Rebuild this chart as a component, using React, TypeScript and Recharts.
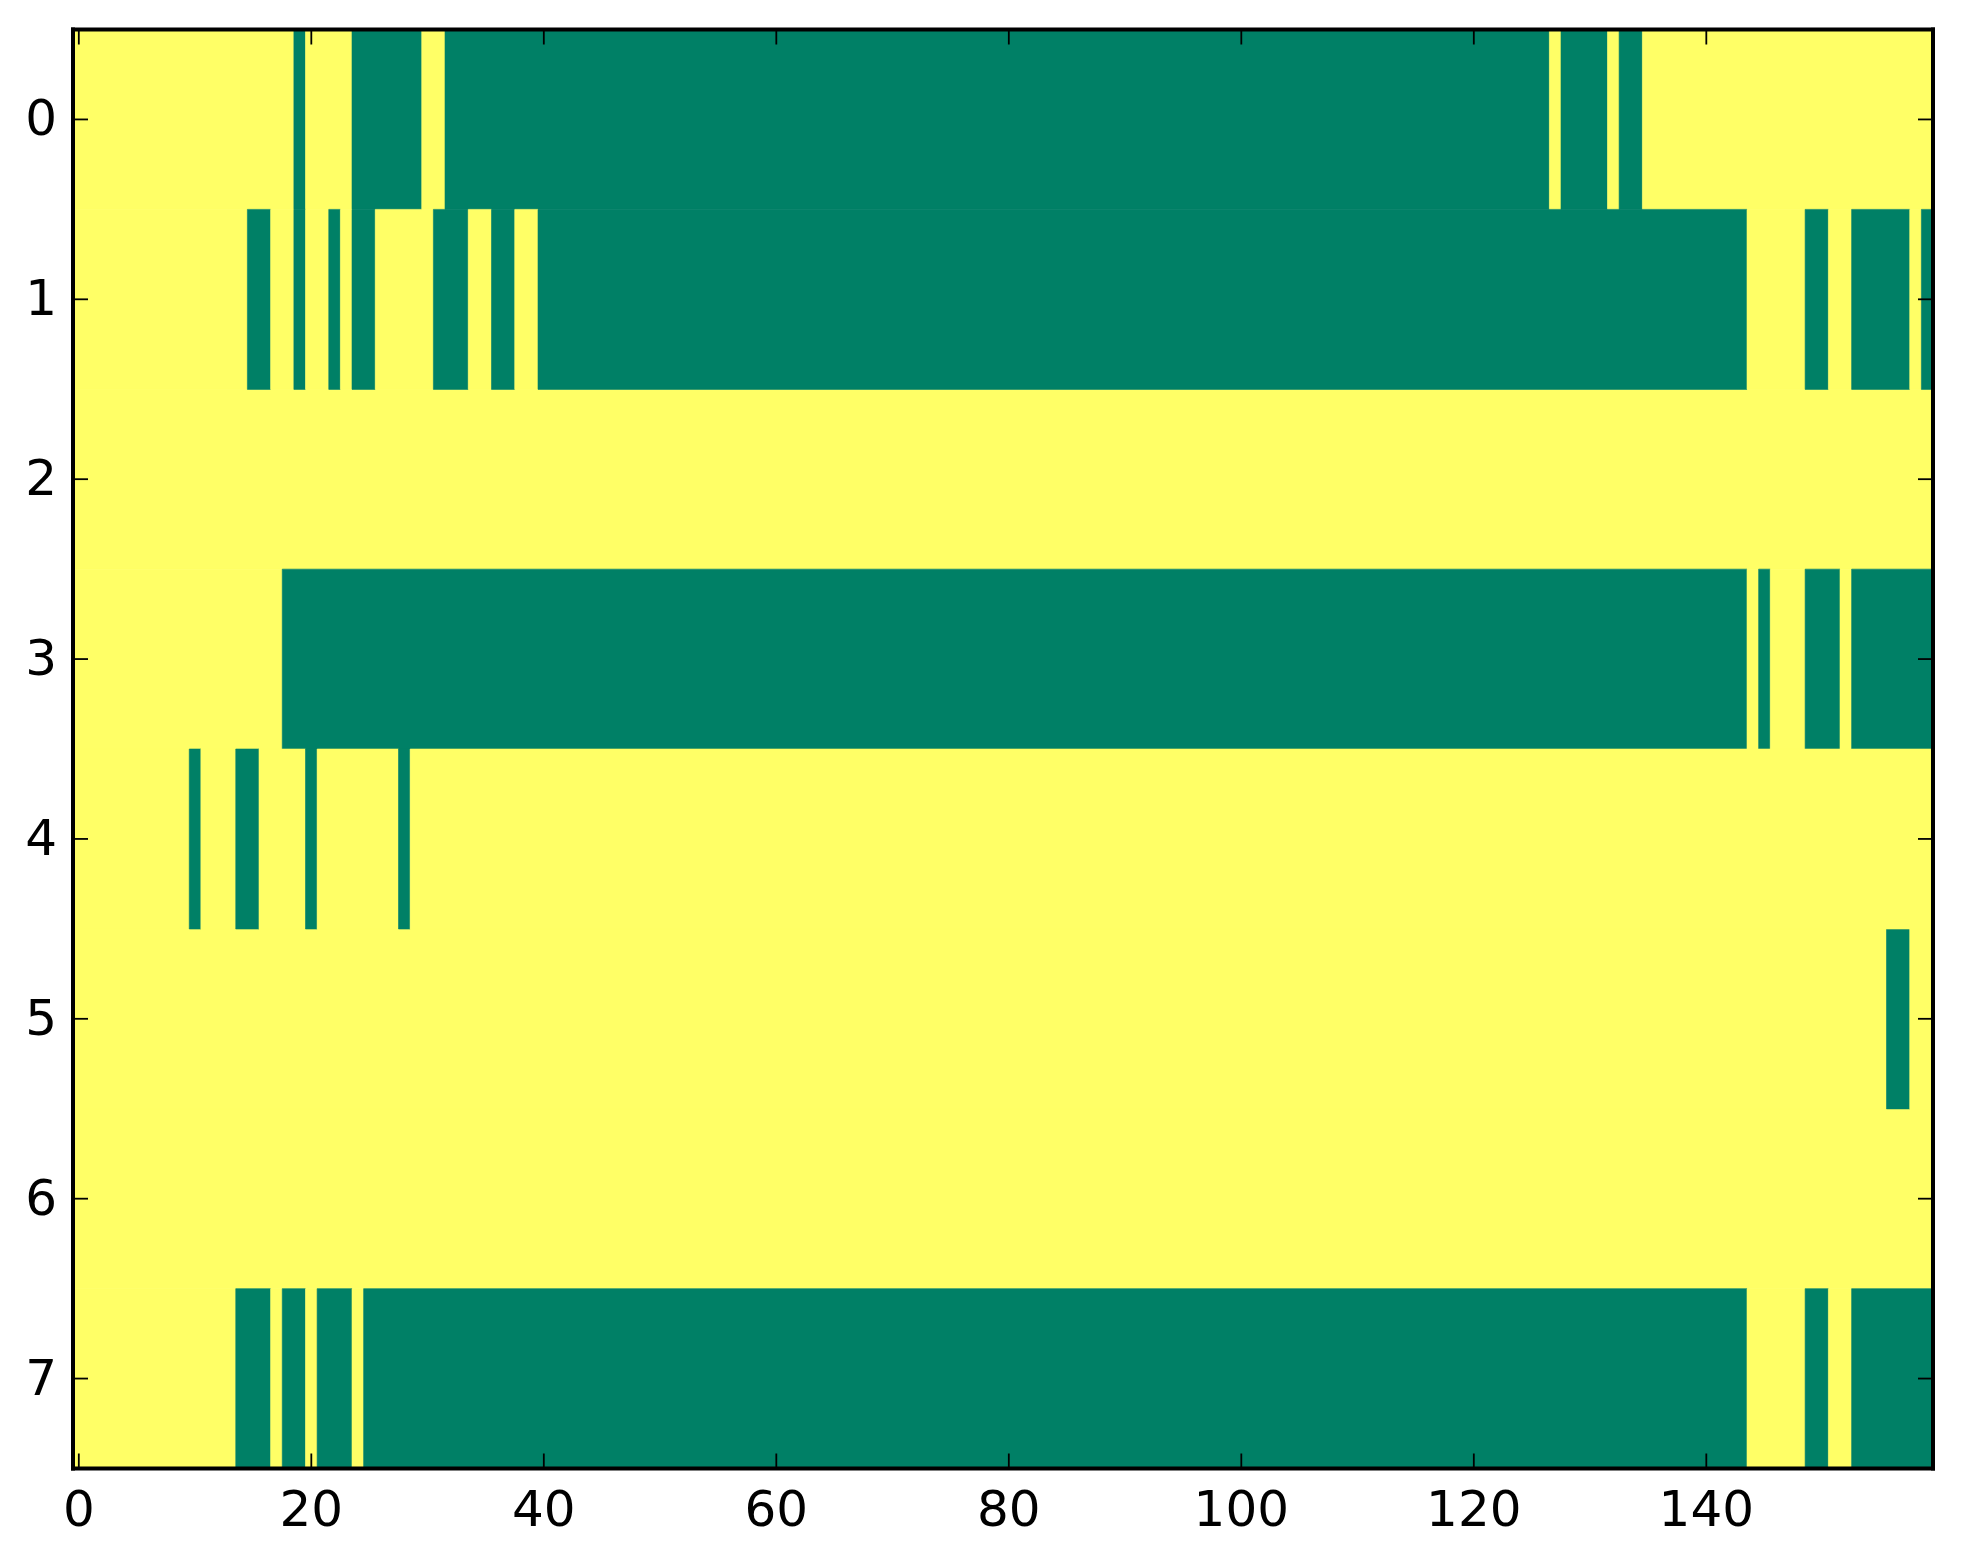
import { BarChart, Bar, XAxis, YAxis } from "recharts";

// rows of the image, top to bottom
const rows = ["0", "1", "2", "3", "4", "5", "6", "7"];
const nCols = 160;

// green cells per row, as inclusive column ranges; everything else is yellow
const row0Green = [[19, 19], [24, 29], [32, 126], [128, 131], [133, 134]];
const row1Green = [[15, 16], [19, 19], [22, 22], [24, 25], [31, 33], [36, 37], [40, 143], [149, 150], [153, 157], [159, 159]];
const row2Green: number[][] = [];
const row3Green = [[18, 143], [145, 145], [149, 151], [153, 159]];
const row4Green = [[10, 10], [14, 15], [20, 20], [28, 28]];
const row5Green = [[156, 157]];
const row6Green: number[][] = [];
const row7Green = [[14, 16], [18, 19], [21, 23], [25, 143], [149, 150], [153, 159]];

const xTicks = [0, 20, 40, 60, 80, 100, 120, 140];

const YELLOW = "#ffff66";
const GREEN = "#008066";
const FONT = "'DejaVu Sans', sans-serif";

const greenRows = [row0Green, row1Green, row2Green, row3Green, row4Green, row5Green, row6Green, row7Green];

// run lengths, alternating yellow / green, starting with yellow
function toSegments(runs: number[][]) {
  const segs: number[] = [];
  let pos = 0;
  for (const [a, b] of runs) {
    segs.push(a - pos);
    segs.push(b - a + 1);
    pos = b + 1;
  }
  segs.push(nCols - pos);
  return segs;
}

const segRows = greenRows.map(toSegments);
const maxSegs = Math.max(...segRows.map((s) => s.length));

const data = rows.map((r, i) => {
  const o: Record<string, string | number> = { row: r };
  segRows[i].forEach((v, k) => {
    o["s" + k] = v;
  });
  return o;
});

// x axis runs over cell edges (0..160), ticks sit on cell centres
const edgeTicks = xTicks.map((t) => t + 0.5);

const W = 1963;
const H = 1564;
// top / right axes get 1px so recharts still draws them
const margin = { top: 28.5, right: 29, bottom: 35.5, left: 0 };

const TL = 15; // inward tick length
const tickLineStyle = { stroke: "#000", strokeWidth: 1.8 };
const labelStyle = { fontFamily: FONT, fontSize: 50, fill: "#000" };

// matplotlib-classic ticks point into the plot, so draw line + label ourselves
function BottomTick(p: any) {
  return (
    <g>
      <line x1={p.x} x2={p.x} y1={p.y} y2={p.y - TL} {...tickLineStyle} />
      <text x={p.x} y={p.y + 57.5} textAnchor="middle" {...labelStyle}>
        {String(p.payload.value - 0.5)}
      </text>
    </g>
  );
}

function TopTick(p: any) {
  return <line x1={p.x} x2={p.x} y1={p.y} y2={p.y + TL} {...tickLineStyle} />;
}

function LeftTick(p: any) {
  return (
    <g>
      <line x1={p.x + 16} x2={p.x + 16 + TL} y1={p.y} y2={p.y} {...tickLineStyle} />
      <text x={p.x} y={p.y} dy="0.32em" textAnchor="end" {...labelStyle}>
        {p.payload.value}
      </text>
    </g>
  );
}

function RightTick(p: any) {
  return <line x1={p.x} x2={p.x - TL} y1={p.y} y2={p.y} {...tickLineStyle} />;
}

function Axes({ show }: { show: boolean }) {
  const line = show ? { stroke: "#000", strokeWidth: 4, strokeLinecap: "square" as const } : false;
  const common = { stroke: "#000", strokeWidth: 4, tickSize: 0, axisLine: line, tickLine: false, interval: 0 as const };
  return [
    <XAxis
      key="xb"
      {...common}
      type="number"
      domain={[0, nCols]}
      allowDataOverflow
      ticks={edgeTicks}
      height={60}
      tickMargin={0}
      tick={show ? BottomTick : false}
    />,
    <XAxis
      key="xt"
      {...common}
      xAxisId="top"
      orientation="top"
      type="number"
      domain={[0, nCols]}
      allowDataOverflow
      ticks={edgeTicks}
      height={1}
      tickMargin={0}
      tick={show ? TopTick : false}
    />,
    <YAxis
      key="yl"
      {...common}
      type="category"
      dataKey="row"
      width={73}
      tickMargin={16}
      tick={show ? LeftTick : false}
    />,
    <YAxis
      key="yr"
      {...common}
      yAxisId="right"
      orientation="right"
      type="category"
      dataKey="row"
      width={1}
      tickMargin={0}
      tick={show ? RightTick : false}
    />,
  ];
}

export default function App() {
  return (
    <div style={{ position: "absolute", left: 0, top: 0, width: W, height: H, background: "#fff" }}>
      <BarChart width={W} height={H} data={data} layout="vertical" barCategoryGap={0} barGap={0} margin={margin}>
        {Array.from({ length: maxSegs }, (_, k) => (
          <Bar
            key={k}
            dataKey={"s" + k}
            stackId="a"
            fill={k % 2 ? GREEN : YELLOW}
            stroke={k % 2 ? GREEN : YELLOW}
            strokeWidth={0.6}
            isAnimationActive={false}
          />
        ))}
        {Axes({ show: false })}
      </BarChart>

      {/* frame and ticks, laid over the cells */}
      <div style={{ position: "absolute", left: 0, top: 0 }}>
        <BarChart width={W} height={H} data={data} layout="vertical" barCategoryGap={0} barGap={0} margin={margin}>
          <Bar dataKey="s0" fill="none" isAnimationActive={false} />
          <Bar dataKey="s0" xAxisId="top" yAxisId="right" fill="none" isAnimationActive={false} />
          {Axes({ show: true })}
        </BarChart>
      </div>
    </div>
  );
}
